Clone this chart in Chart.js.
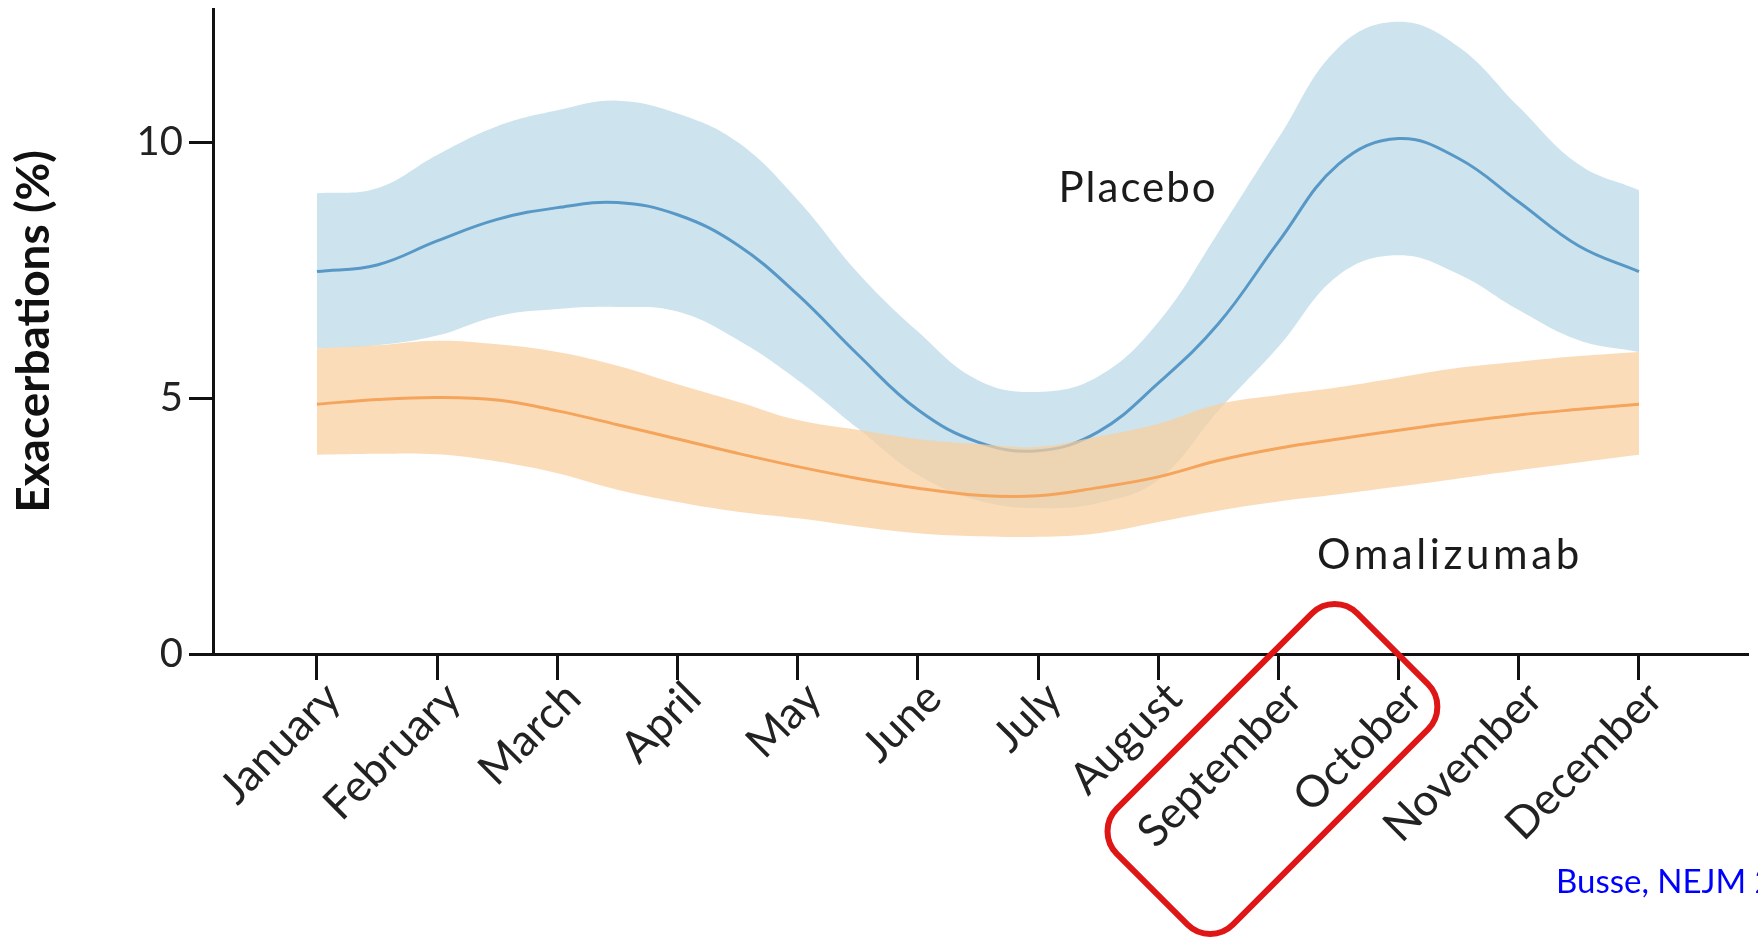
<!DOCTYPE html>
<html>
<head>
<meta charset="utf-8">
<title>Exacerbations by month</title>
<style>
  html, body { margin: 0; padding: 0; background: #ffffff; }
  #wrap { width: 1758px; height: 938px; position: relative; }
  canvas { display: block; }
</style>
<script src="https://cdn.jsdelivr.net/npm/chart.js@4.4.1/dist/chart.umd.min.js"></script>
</head>
<body>
<div id="wrap"><canvas id="chart" width="1758" height="938"></canvas></div>
<script>
// Months on the x axis (month n sits at position n)
const months = ['January', 'February', 'March', 'April', 'May', 'June',
                'July', 'August', 'September', 'October', 'November', 'December'];

// Positions (in months) at which the curves are sampled: each month and mid-month
const samplePositions = [1, 1.5, 2, 2.5, 3, 3.5, 4, 4.5, 5, 5.5, 6, 6.5,
                         7, 7.5, 8, 8.5, 9, 9.5, 10, 10.5, 11, 11.5, 12];

// Y axis tick values (%)
const yTickValues = [0, 5, 10];

// Placebo: estimated exacerbation rate (%) and its confidence band
const placeboMean  = [7.47, 7.60, 8.07, 8.49, 8.72, 8.82, 8.58, 7.99, 7.02, 5.85, 4.77, 4.14,
                      3.97, 4.34, 5.29, 6.45, 8.05, 9.57, 10.07, 9.68, 8.83, 7.97, 7.47];
const placeboUpper = [9.00, 9.10, 9.75, 10.31, 10.62, 10.81, 10.56, 10.00, 8.87, 7.45, 6.30, 5.35,
                      5.12, 5.42, 6.48, 8.24, 10.08, 11.85, 12.35, 11.86, 10.69, 9.56, 9.06];
const placeboLower = [5.97, 6.03, 6.22, 6.60, 6.74, 6.78, 6.69, 6.14, 5.35, 4.41, 3.50, 3.00,
                      2.85, 2.95, 3.40, 4.75, 6.00, 7.40, 7.79, 7.42, 6.72, 6.13, 5.90];

// Omalizumab: estimated exacerbation rate (%) and its confidence band
const omalizumabMean  = [4.88, 4.97, 5.01, 4.96, 4.75, 4.48, 4.20, 3.92, 3.66, 3.43, 3.24, 3.10,
                         3.09, 3.25, 3.46, 3.78, 4.02, 4.20, 4.37, 4.53, 4.67, 4.78, 4.88];
const omalizumabUpper = [5.97, 6.03, 6.12, 6.05, 5.90, 5.63, 5.27, 4.93, 4.57, 4.38, 4.20, 4.10,
                         4.05, 4.25, 4.50, 4.88, 5.06, 5.21, 5.40, 5.59, 5.71, 5.82, 5.90];
const omalizumabLower = [3.89, 3.91, 3.90, 3.76, 3.53, 3.21, 2.97, 2.78, 2.65, 2.49, 2.36, 2.30,
                         2.29, 2.36, 2.58, 2.80, 2.98, 3.12, 3.27, 3.43, 3.59, 3.74, 3.89];

// Series names written next to the curves
const seriesNames = ['Placebo', 'Omalizumab'];
const citation = 'Busse, NEJM 2011';

// ---- presentation settings ----
const FONT = 'Lato';
const AXIS_COLOR = '#111111';
const BLUE_FILL = 'rgb(205, 228, 238)';
const BLUE_LINE = 'rgb(88, 152, 198)';
const ORANGE_FILL = 'rgba(250, 206, 158, 0.72)';
const ORANGE_LINE = 'rgb(245, 164, 92)';
const TENSION = 0.4;

// where the series names sit, in data units (left edge / baseline), and their tracking
const nameAnchors = [
  { x: 7.17, y: 8.83, spacing: 2 },
  { x: 9.32, y: 1.66, spacing: 3.6 }
];

const toPoints = arr => arr.map((v, i) => ({ x: samplePositions[i], y: v }));

const bandEdge = (data, color, order, fill) => ({
  data: toPoints(data),
  borderWidth: 0,
  borderColor: 'rgba(0,0,0,0)',
  backgroundColor: color,
  pointRadius: 0,
  tension: TENSION,
  fill: fill,
  order: order
});

const meanLine = (data, color, order) => ({
  data: toPoints(data),
  borderColor: color,
  borderWidth: 3,
  pointRadius: 0,
  tension: TENSION,
  fill: false,
  order: order
});

// draws the series names, the source note and the highlight box
const annotations = {
  id: 'annotations',
  afterDraw(chart) {
    const { ctx, scales: { x, y }, chartArea } = chart;
    ctx.save();
    ctx.fillStyle = '#1b1b1b';
    ctx.font = `42px ${FONT}`;
    ctx.textAlign = 'left';
    ctx.textBaseline = 'alphabetic';
    seriesNames.forEach((name, i) => {
      const a = nameAnchors[i];
      ctx.letterSpacing = a.spacing + 'px';
      ctx.fillText(name, x.getPixelForValue(a.x), y.getPixelForValue(a.y));
    });
    ctx.letterSpacing = '0px';

    // source note, bottom right
    ctx.fillStyle = '#0000ff';
    ctx.font = `33px ${FONT}`;
    ctx.fillText(citation, 1556, 893);

    // red rounded box around the autumn months
    const cx = x.getPixelForValue(8.95);
    const cy = chartArea.bottom + 115;
    ctx.translate(cx, cy);
    ctx.rotate(-Math.PI / 4);
    ctx.beginPath();
    ctx.roundRect(-170, -82, 340, 164, 32);
    ctx.lineWidth = 6;
    ctx.strokeStyle = 'rgb(222, 22, 22)';
    ctx.stroke();
    ctx.restore();
  }
};

new Chart(document.getElementById('chart'), {
  type: 'line',
  data: {
    datasets: [
      bandEdge(placeboUpper, BLUE_FILL, 4, '+1'),
      bandEdge(placeboLower, BLUE_FILL, 5, false),
      meanLine(placeboMean, BLUE_LINE, 3),
      bandEdge(omalizumabUpper, ORANGE_FILL, 1, '+1'),
      bandEdge(omalizumabLower, ORANGE_FILL, 2, false),
      meanLine(omalizumabMean, ORANGE_LINE, 0)
    ]
  },
  options: {
    responsive: false,
    devicePixelRatio: 1,
    animation: false,
    layout: { padding: { top: 9, right: 10, left: 0, bottom: 0 } },
    plugins: {
      legend: { display: false },
      tooltip: { enabled: false }
    },
    scales: {
      x: {
        type: 'linear',
        min: 0.135,
        max: 12.907,
        afterBuildTicks: s => { s.ticks = months.map((_, i) => ({ value: i + 1 })); },
        afterFit: s => { s.height = 284; s.paddingLeft = 0; s.paddingRight = 0; },
        ticks: {
          autoSkip: false,
          minRotation: 45,
          maxRotation: 45,
          padding: -8,
          labelOffset: 16,
          color: '#222222',
          font: { family: FONT, size: 44 },
          callback: v => months[Math.round(v) - 1]
        },
        grid: {
          drawOnChartArea: false,
          drawTicks: true,
          tickLength: 26,
          tickWidth: 3,
          tickColor: AXIS_COLOR
        },
        border: { display: true, width: 3, color: AXIS_COLOR }
      },
      y: {
        min: 0,
        max: 12.6,
        afterBuildTicks: s => { s.ticks = yTickValues.map(v => ({ value: v })); },
        afterFit: s => { s.width = 213; s.paddingTop = 0; s.paddingBottom = 0; },
        ticks: {
          padding: 6,
          color: '#222222',
          font: { family: FONT, size: 40 }
        },
        grid: {
          drawOnChartArea: false,
          drawTicks: true,
          tickLength: 24,
          tickWidth: 3,
          tickColor: AXIS_COLOR
        },
        border: { display: true, width: 3, color: AXIS_COLOR },
        title: {
          display: true,
          text: 'Exacerbations (%)',
          color: '#111111',
          font: { family: FONT, size: 46, weight: 'bold' },
          padding: { top: 7, bottom: 0 }
        }
      }
    }
  },
  plugins: [annotations]
});
</script>
</body>
</html>
